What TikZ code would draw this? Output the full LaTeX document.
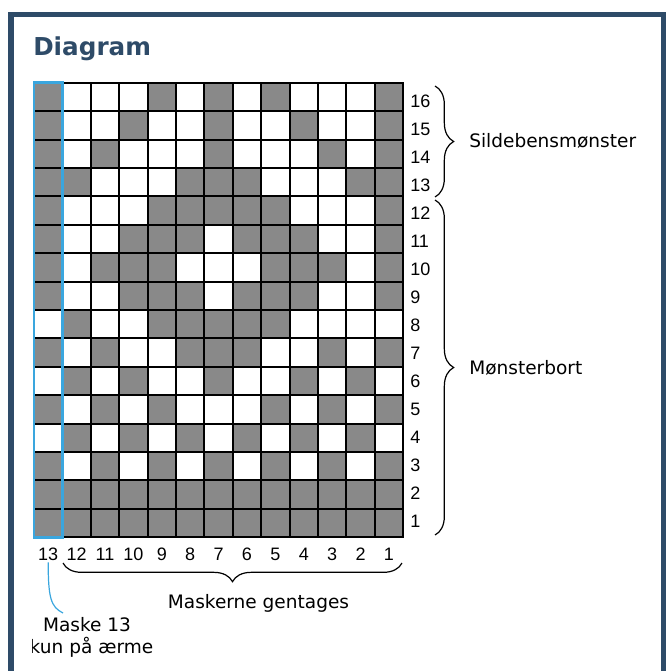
\documentclass[tikz,border=0pt]{standalone}
\usepackage{fontspec}
\setmainfont{DejaVu Sans}
\newfontfamily\numfont{Liberation Sans}
\usetikzlibrary{decorations.pathreplacing}
\definecolor{framecol}{HTML}{2E4B68}
\definecolor{cellgrey}{HTML}{898989}
\definecolor{maskblue}{HTML}{3AA6DE}

\tikzset{
  numlabel/.style={font=\numfont\fontsize{13.5}{16}\selectfont, inner sep=1.5pt},
  textlabel/.style={font=\fontsize{13.9}{17}\selectfont, inner sep=0pt},
  bracedec/.style={decorate, decoration={brace, amplitude=14pt}, line width=0.9pt},
  gridline/.style={line width=1.5pt, line cap=rect},
}

\begin{document}
\begin{tikzpicture}[x=0.75pt, y=-0.75pt]
  \useasboundingbox (0,0) rectangle (667,671);
  % frame and title
  \draw[framecol, line width=4.2pt] (11,14.5) rectangle (663.5,700);
  \node[anchor=base west, inner sep=0pt, text=framecol,
        font=\bfseries\fontsize{18.5}{22}\selectfont] (title) at (33,55) {Diagram};

  % chart, one unit per stitch
  \begin{scope}[shift={(34,82.7)}, x=21.3pt, y=-21.3pt]
    \foreach \r/\cs in {16/{1,5,7,9,13}, 15/{1,4,7,10,13}, 14/{1,3,7,11,13},
        13/{1,2,6,7,8,12,13}, 12/{1,5,6,7,8,9,13}, 11/{1,4,5,6,8,9,10,13},
        10/{1,3,4,5,9,10,11,13}, 9/{1,4,5,6,8,9,10,13}, 8/{2,5,6,7,8,9},
        7/{1,3,6,7,8,11,13}, 6/{2,4,7,10,12}, 5/{1,3,5,9,11,13},
        4/{2,4,6,8,10,12}, 3/{1,3,5,7,9,11,13}, 2/{1,...,13}, 1/{1,...,13}}
      \foreach \c in \cs
        \fill[cellgrey] (\c-1,16-\r) rectangle (\c,17-\r);
    \foreach \i in {0,...,13}
      \draw[gridline] (\i,0) -- (\i,16);
    \foreach \j in {0,...,16}
      \draw[gridline] (0,\j) -- (13,\j);
    % stitch 13 column
    \draw[maskblue, line width=2.2pt] (0,0) rectangle (1,16);
  \end{scope}

  % stitch and row numbers
  \foreach \i [evaluate=\i as \n using int(14-\i)] in {1,...,13}
    \node[numlabel, anchor=base] (col\n) at ({34+28.4*(\i-0.5)},560) {\n};
  \foreach \r in {1,...,16}
    \node[numlabel, anchor=base west, inner sep=0pt] (row\r) at (410,{107+28*(16-\r)}) {\r};

  % braces on the right
  \coordinate (sb-top) at (435,86);
  \coordinate (sb-bot) at (435,197);
  \coordinate (mb-top) at (435,200);
  \coordinate (mb-bot) at (435,535);
  \draw[bracedec] (sb-top) -- (sb-bot);
  \draw[bracedec] (mb-top) -- (mb-bot);
  \node[textlabel, anchor=base west] (sildeben) at (469,147) {Sildebensmønster};
  \node[textlabel, anchor=base west] (bort) at (469,374) {Mønsterbort};

  % brace under stitches 12--1
  \coordinate (rep-right) at (402,563);
  \coordinate (rep-left) at (63,563);
  \draw[bracedec] (rep-right) -- (rep-left);
  \node[textlabel, anchor=base] (repeat) at (258.5,608) {Maskerne gentages};

  % note on stitch 13
  \node[textlabel, anchor=base] (mask13) at (87,631) {Maske 13};
  \begin{scope}
    \clip (32,634) rectangle (220,668);
    \node[textlabel, anchor=base] (sleeve) at (91.5,653) {kun på ærme};
  \end{scope}
  \coordinate (m13end) at (63,613);
  \draw[maskblue, line width=0.9pt] (col13.south) .. controls +(0,36) and +(-12,-6) .. (m13end);
\end{tikzpicture}
\end{document}
